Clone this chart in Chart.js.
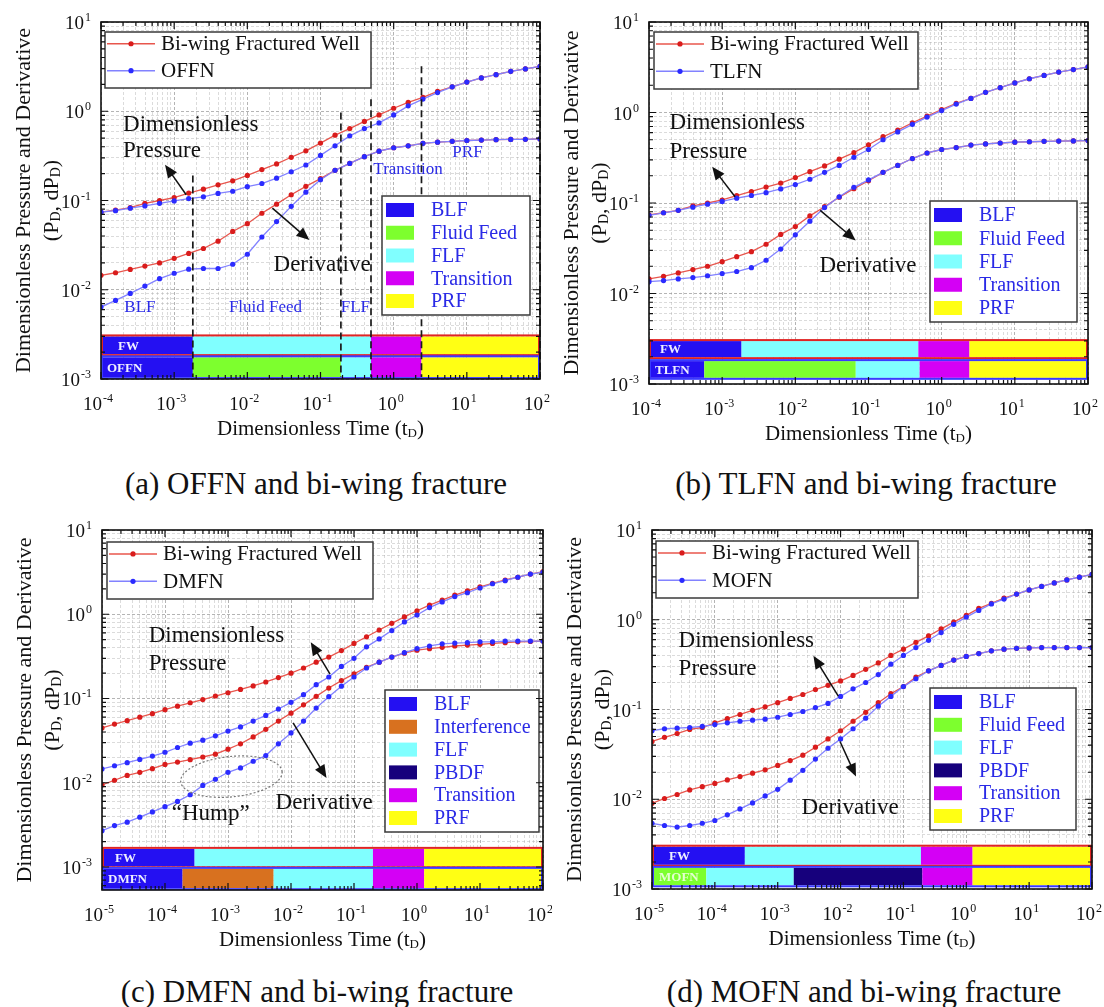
<!DOCTYPE html>
<html><head><meta charset="utf-8">
<script src="https://cdn.jsdelivr.net/npm/chart.js@4.4.0/dist/chart.umd.min.js"></script>
<style>
html,body{margin:0;padding:0;background:#fff;}
body{width:1104px;height:1007px;position:relative;overflow:hidden;}
canvas{position:absolute;}
.cap{position:absolute;font-family:"Liberation Serif","Times New Roman",serif;font-size:31px;line-height:1;text-align:center;width:500px;color:#111;white-space:nowrap;}
</style></head><body>
<canvas id="ca" width="552" height="460" style="left:0;top:0"></canvas>
<canvas id="cb" width="552" height="460" style="left:552px;top:0"></canvas>
<canvas id="cc" width="552" height="460" style="left:0;top:505px"></canvas>
<canvas id="cd" width="552" height="460" style="left:552px;top:505px"></canvas>
<div class="cap" style="left:66px;top:468px">(a) OFFN and bi-wing fracture</div>
<div class="cap" style="left:616px;top:468px">(b) TLFN and bi-wing fracture</div>
<div class="cap" style="left:67px;top:976px">(c) DMFN and bi-wing fracture</div>
<div class="cap" style="left:614px;top:976px">(d) MOFN and bi-wing fracture</div>
<script>
// ---------- DATA ----------
const tA = [1e-4,1.58e-4,2.51e-4,3.98e-4,6.31e-4,1e-3,1.58e-3,2.51e-3,3.98e-3,6.31e-3,1e-2,1.58e-2,2.51e-2,3.98e-2,6.31e-2,0.1,0.158,0.251,0.398,0.631,1,1.58,2.51,3.98,6.31,10,15.8,25.1,39.8,63.1,100];
const tC = [1e-5,1.58e-5,2.51e-5,3.98e-5,6.31e-5,1e-4,1.58e-4,2.51e-4,3.98e-4,6.31e-4,1e-3,1.58e-3,2.51e-3,3.98e-3,6.31e-3,1e-2,1.58e-2,2.51e-2,3.98e-2,6.31e-2,0.1,0.158,0.251,0.398,0.631,1,1.58,2.51,3.98,6.31,10,15.8,25.1,39.8,63.1,100];

// (a) and (b): bi-wing fractured well
const fwPressAB = [0.074,0.078,0.083,0.093,0.100,0.108,0.121,0.134,0.150,0.166,0.191,0.222,0.257,0.305,0.36,0.44,0.54,0.64,0.77,0.91,1.08,1.26,1.43,1.67,1.88,2.12,2.36,2.57,2.80,2.98,3.19];
const fwDerivAB = [0.0145,0.0155,0.0169,0.0184,0.020,0.0225,0.0255,0.029,0.035,0.045,0.055,0.072,0.091,0.116,0.144,0.176,0.218,0.26,0.31,0.357,0.39,0.41,0.437,0.45,0.46,0.47,0.475,0.48,0.483,0.485,0.49];
// (a) OFFN
const offnPress = [0.074,0.077,0.082,0.087,0.093,0.099,0.105,0.11,0.12,0.127,0.143,0.155,0.178,0.21,0.25,0.32,0.41,0.53,0.64,0.74,0.91,1.15,1.37,1.62,1.88,2.12,2.36,2.57,2.80,2.98,3.19];
const offnDeriv = [0.0064,0.0076,0.0091,0.011,0.0133,0.0153,0.017,0.0173,0.0173,0.0193,0.025,0.039,0.058,0.086,0.124,0.171,0.218,0.26,0.31,0.357,0.39,0.41,0.437,0.45,0.46,0.47,0.475,0.48,0.483,0.485,0.49];
// (b) TLFN
const tlfnPress = [0.073,0.078,0.083,0.090,0.097,0.104,0.113,0.121,0.130,0.143,0.160,0.183,0.218,0.26,0.32,0.39,0.50,0.61,0.74,0.89,1.05,1.24,1.43,1.67,1.88,2.12,2.36,2.57,2.80,2.98,3.19];
const tlfnDeriv = [0.0135,0.0139,0.0145,0.0150,0.0157,0.0166,0.0175,0.0193,0.0233,0.031,0.0445,0.063,0.089,0.117,0.149,0.18,0.218,0.26,0.31,0.357,0.39,0.41,0.437,0.45,0.46,0.47,0.475,0.48,0.483,0.485,0.49];
// (c) bi-wing and DMFN
const fwPressC = [0.0447,0.0497,0.0545,0.060,0.066,0.0737,0.081,0.089,0.097,0.107,0.117,0.128,0.141,0.157,0.177,0.20,0.23,0.27,0.31,0.37,0.45,0.54,0.65,0.78,0.93,1.1,1.28,1.47,1.69,1.9,2.12,2.33,2.55,2.75,3.0,3.2];
const fwDerivC = [0.0094,0.0107,0.0122,0.0133,0.0147,0.0165,0.0176,0.0188,0.0202,0.0218,0.025,0.029,0.035,0.043,0.054,0.067,0.084,0.106,0.133,0.163,0.196,0.235,0.27,0.31,0.345,0.375,0.39,0.405,0.42,0.43,0.44,0.45,0.46,0.47,0.475,0.48];
const dmfnPress = [0.0146,0.0159,0.0173,0.0189,0.0207,0.023,0.0262,0.0295,0.032,0.036,0.041,0.046,0.054,0.063,0.075,0.09,0.111,0.146,0.18,0.24,0.30,0.41,0.51,0.64,0.81,0.98,1.2,1.40,1.62,1.8,2.05,2.3,2.5,2.75,3.0,3.15];
const dmfnDeriv = [0.0027,0.0031,0.0034,0.0039,0.0045,0.0052,0.006,0.0072,0.0093,0.011,0.0133,0.015,0.018,0.021,0.029,0.039,0.054,0.077,0.105,0.14,0.18,0.23,0.27,0.31,0.35,0.39,0.42,0.445,0.455,0.46,0.47,0.47,0.48,0.48,0.48,0.48];
// (d) bi-wing and MOFN
const fwPressD = [0.044,0.049,0.054,0.060,0.063,0.071,0.079,0.088,0.098,0.107,0.119,0.133,0.147,0.167,0.186,0.208,0.24,0.28,0.33,0.40,0.47,0.56,0.66,0.79,0.94,1.12,1.34,1.52,1.74,1.93,2.15,2.35,2.57,2.78,2.98,3.2];
const fwDerivD = [0.009,0.0102,0.0113,0.0127,0.0138,0.015,0.0164,0.0179,0.0195,0.0213,0.0238,0.027,0.031,0.038,0.047,0.058,0.074,0.093,0.119,0.15,0.18,0.23,0.27,0.31,0.355,0.39,0.42,0.45,0.47,0.48,0.485,0.49,0.49,0.49,0.49,0.49];
const mofnPress = [0.058,0.061,0.062,0.063,0.065,0.068,0.071,0.074,0.076,0.078,0.082,0.088,0.095,0.105,0.117,0.14,0.17,0.20,0.245,0.32,0.40,0.49,0.59,0.72,0.89,1.07,1.27,1.5,1.7,1.93,2.15,2.35,2.57,2.78,2.98,3.2];
const mofnDeriv = [0.0054,0.0051,0.0049,0.0051,0.0054,0.0058,0.0067,0.0078,0.0091,0.0109,0.0129,0.0163,0.021,0.028,0.037,0.047,0.061,0.08,0.109,0.14,0.18,0.22,0.27,0.31,0.355,0.39,0.42,0.45,0.47,0.48,0.485,0.49,0.49,0.49,0.49,0.49];

// flow regime bars (edges in dimensionless time)
const fwEdgesA = [1e-4,1.8e-3,0.49,2.4,100];
const fwRegsA  = ['BLF','FLF','Transition','PRF'];
const offnEdges = [1e-4,1.8e-3,0.19,0.49,2.4,100];
const offnRegs  = ['BLF','Fluid Feed','FLF','Transition','PRF'];
const fwEdgesB = [1e-4,1.84e-3,0.48,2.4,100];
const fwRegsB  = ['BLF','FLF','Transition','PRF'];
const tlfnEdges = [1e-4,5.7e-4,0.067,0.5,2.4,100];
const tlfnRegs  = ['BLF','Fluid Feed','FLF','Transition','PRF'];
const fwEdgesC = [1e-5,2.95e-4,0.2,1.3,100];
const fwRegsC  = ['BLF','FLF','Transition','PRF'];
const dmfnEdges = [1e-5,1.9e-4,5.3e-3,0.2,1.3,100];
const dmfnRegs  = ['BLF','Interference','FLF','Transition','PRF'];
const fwEdgesD = [1e-5,3e-4,0.19,1.26,100];
const fwRegsD  = ['BLF','FLF','Transition','PRF'];
const mofnEdges = [1e-5,7.3e-5,1.8e-3,0.2,1.26,100];
const mofnRegs  = ['Fluid Feed','FLF','PBDF','Transition','PRF'];

// dashed regime boundaries in (a)
const dashTimesA = [1.8e-3,0.19,0.49,2.4,100];
const dashTopsA  = [0.19,0.97,1.36,3.2,10];

// legends and tick labels
const regLegendAB = ['BLF','Fluid Feed','FLF','Transition','PRF'];
const regLegendC  = ['BLF','Interference','FLF','PBDF','Transition','PRF'];
const regLegendD  = ['BLF','Fluid Feed','FLF','PBDF','Transition','PRF'];
const xTickExpAB = ['-4','-3','-2','-1','0','1','2'];
const xTickExpCD = ['-5','-4','-3','-2','-1','0','1','2'];
const yTickExp   = ['-3','-2','-1','0','1'];

// ---------- STYLE ----------
const SERIF='"Liberation Serif","Times New Roman",Times,serif';
const REG_COLORS={'BLF':'#2410f2','Fluid Feed':'#7dff2e','FLF':'#80ffff','Transition':'#d400f5','PRF':'#ffff14','Interference':'#d8711f','PBDF':'#16007c'};
const RED_LINE='#e8564d', RED_PT='#d91c1c', BLUE_LINE='#8282ff', BLUE_PT='#2b2bff', BLUE_TXT='#2a2ae6';

function pts(t,v){return v.map((y,i)=>({x:t[i],y:y}));}
function curve(label,t,v,blue){
  const pc=blue?BLUE_PT:RED_PT;
  return {label:label,data:pts(t,v),order:blue?1:2,borderColor:blue?BLUE_LINE:RED_LINE,backgroundColor:pc,
    pointBackgroundColor:pc,pointBorderColor:pc,pointRadius:2.6,pointBorderWidth:0,borderWidth:1.3,tension:0,fill:false};
}
function dashSet(times,tops,bottom){
  return times.map((x,i)=>({label:'dash',order:0,data:[{x:x,y:tops[i]},{x:x,y:bottom}],borderColor:'#1a1a1a',borderWidth:1.7,
    borderDash:[7,4],pointRadius:0,fill:false,clip:false}));
}
function logTicks(min,max){
  const out=[];
  for(let e=Math.floor(Math.log10(min));e<=Math.ceil(Math.log10(max));e++){
    for(let m=1;m<=9;m++){const v=m*Math.pow(10,e); if(v>=min*0.9999&&v<=max*1.0001) out.push({value:v,major:m===1});}
  }
  return out;
}
function axis(min,max){
  return {type:'logarithmic',min:min,max:max,ticks:{display:false},
    grid:{drawTicks:false,lineWidth:1,color:c=>(c.tick&&c.tick.major)?'rgba(130,130,130,0.6)':'rgba(160,160,160,0.38)'},
    border:{display:false,dash:[3,2]},
    afterBuildTicks:s=>{s.ticks=logTicks(min,max);}};
}

// ---------- DRAW HELPERS ----------
function subW(ctx,parts,size){let w=0;parts.forEach(p=>{ctx.font=(p[1]?Math.round(size*0.62):size)+'px '+SERIF;w+=ctx.measureText(p[0]).width;});return w;}
function drawRich(ctx,parts,x,y,size,align){
  const W=subW(ctx,parts,size);let cx=align==='center'?x-W/2:x;
  ctx.textAlign='left';ctx.textBaseline='alphabetic';
  parts.forEach(p=>{const s=p[1]?Math.round(size*0.62):size;ctx.font=s+'px '+SERIF;ctx.fillText(p[0],cx,y+(p[1]?size*0.1:0));cx+=ctx.measureText(p[0]).width;});
}
function drawPow(ctx,x,base,exp,align){
  ctx.font='19px '+SERIF;const w1=ctx.measureText('10').width;
  ctx.font='12px '+SERIF;const w2=ctx.measureText(exp).width;
  const W=w1+1+w2;const x0=align==='center'?x-W/2:x-W;
  ctx.textAlign='left';ctx.textBaseline='alphabetic';
  ctx.font='19px '+SERIF;ctx.fillText('10',x0,base);
  ctx.font='12px '+SERIF;ctx.fillText(exp,x0+w1+1,base-8);
}
function arrow(ctx,x1,y1,x2,y2){
  const ang=Math.atan2(y2-y1,x2-x1),L=13,H=5.5;
  ctx.strokeStyle='#111';ctx.fillStyle='#111';ctx.lineWidth=1.5;
  ctx.beginPath();ctx.moveTo(x1,y1);ctx.lineTo(x2-Math.cos(ang)*L*0.8,y2-Math.sin(ang)*L*0.8);ctx.stroke();
  ctx.beginPath();ctx.moveTo(x2,y2);
  ctx.lineTo(x2-L*Math.cos(ang)+H*Math.sin(ang),y2-L*Math.sin(ang)-H*Math.cos(ang));
  ctx.lineTo(x2-L*Math.cos(ang)-H*Math.sin(ang),y2-L*Math.sin(ang)+H*Math.cos(ang));
  ctx.closePath();ctx.fill();
}

const PANELS={};
const deco={id:'deco',
  beforeDatasetsDraw(chart){
    const P=PANELS[chart.canvas.id],ctx=chart.ctx,a=chart.chartArea,xs=chart.scales.x,ys=chart.scales.y;
    ctx.save();
    P.bars.forEach(b=>{
      const y1=ys.getPixelForValue(b.hi),y2=ys.getPixelForValue(b.lo);
      for(let i=0;i<b.regs.length;i++){
        const x1=xs.getPixelForValue(b.edges[i]),x2=xs.getPixelForValue(b.edges[i+1]);
        ctx.fillStyle=REG_COLORS[b.regs[i]];ctx.fillRect(x1,y1,x2-x1,y2-y1);
      }
      ctx.strokeStyle=b.outline;ctx.lineWidth=2;ctx.strokeRect(a.left+1,y1-1,a.right-a.left-2,y2-y1+2);
      ctx.fillStyle=b.labelColor;ctx.font='bold 13px '+SERIF;ctx.textAlign='left';ctx.textBaseline='middle';
      ctx.fillText(b.name,a.left+b.dx,(y1+y2)/2+1);
    });
    ctx.restore();
  },
  afterDatasetsDraw(chart){
    const P=PANELS[chart.canvas.id],ctx=chart.ctx,a=chart.chartArea,xs=chart.scales.x,ys=chart.scales.y;
    const X=v=>xs.getPixelForValue(v),Y=v=>ys.getPixelForValue(v);
    ctx.save();
    if(P.ellipse){const e=P.ellipse;const x1=X(e.x0),x2=X(e.x1),y1=Y(e.y1),y2=Y(e.y0);
      ctx.strokeStyle='#777';ctx.lineWidth=1.2;ctx.setLineDash([2,2]);ctx.beginPath();
      ctx.ellipse((x1+x2)/2,(y1+y2)/2,(x2-x1)/2,(y2-y1)/2,e.rot,0,Math.PI*2);ctx.stroke();ctx.setLineDash([]);}
    P.arrows.forEach(r=>arrow(ctx,X(r[0]),Y(r[1]),X(r[2]),Y(r[3])));
    P.notes.forEach(n=>{ctx.fillStyle=n.c||'#111';ctx.font=(n.s||23)+'px '+SERIF;ctx.textAlign=n.al||'left';ctx.textBaseline='middle';ctx.fillText(n.t,X(n.x),Y(n.y));});
    const L=P.legend;const lx=a.left+L.dx,ly=a.top+L.dy;
    ctx.fillStyle='#fff';ctx.fillRect(lx,ly,L.w,L.h);ctx.strokeStyle='#3a3a3a';ctx.lineWidth=1.5;ctx.strokeRect(lx,ly,L.w,L.h);
    [[P.names[0],RED_LINE,RED_PT,0.21],[P.names[1],BLUE_LINE,BLUE_PT,0.69]].forEach(r=>{
      const yy=ly+L.h*r[3];ctx.strokeStyle=r[1];ctx.lineWidth=1.5;ctx.beginPath();ctx.moveTo(lx+2,yy);ctx.lineTo(lx+50,yy);ctx.stroke();
      ctx.fillStyle=r[2];ctx.beginPath();ctx.arc(lx+26,yy,2.6,0,Math.PI*2);ctx.fill();
      ctx.fillStyle='#111';ctx.font='21px '+SERIF;ctx.textAlign='left';ctx.textBaseline='middle';ctx.fillText(r[0],lx+56,yy+1);
    });
    const R=P.reg;const rx=a.right-R.dr-R.w,ry=a.top+R.dt;
    ctx.fillStyle='#fff';ctx.fillRect(rx,ry,R.w,R.h);ctx.strokeStyle='#3a3a3a';ctx.lineWidth=1.5;ctx.strokeRect(rx,ry,R.w,R.h);
    const n=R.items.length,sp=(R.h-28)/(n-1);
    R.items.forEach((it,i)=>{const yy=ry+14+i*sp;
      ctx.fillStyle=REG_COLORS[it];ctx.fillRect(rx+4,yy-7,28,14);
      ctx.fillStyle=BLUE_TXT;ctx.font='20px '+SERIF;ctx.textAlign='left';ctx.textBaseline='middle';ctx.fillText(it,rx+49,yy+1);});
    ctx.restore();
  },
  afterDraw(chart){
    const P=PANELS[chart.canvas.id],ctx=chart.ctx,a=chart.chartArea,xs=chart.scales.x,ys=chart.scales.y;
    ctx.save();
    ctx.strokeStyle='#111';ctx.lineWidth=1.6;ctx.strokeRect(a.left,a.top,a.right-a.left,a.bottom-a.top);
    ctx.lineWidth=1.2;ctx.beginPath();
    xs.ticks.forEach(t=>{const x=xs.getPixelForValue(t.value),L=t.major?7:4;ctx.moveTo(x,a.bottom);ctx.lineTo(x,a.bottom-L);ctx.moveTo(x,a.top);ctx.lineTo(x,a.top+L);});
    ys.ticks.forEach(t=>{const y=ys.getPixelForValue(t.value),L=t.major?7:4;ctx.moveTo(a.left,y);ctx.lineTo(a.left+L,y);ctx.moveTo(a.right,y);ctx.lineTo(a.right-L,y);});
    ctx.stroke();
    ctx.fillStyle='#111';
    P.xExp.forEach(e=>drawPow(ctx,xs.getPixelForValue(Math.pow(10,Number(e)))-3,a.bottom+31,e,'center'));
    yTickExp.forEach(e=>drawPow(ctx,a.left-10,ys.getPixelForValue(Math.pow(10,Number(e)))+7,e,'right'));
    drawRich(ctx,[['Dimensionless Time (t',0],['D',1],[')',0]],(a.left+a.right)/2,a.bottom+56,21,'center');
    const cy=(a.top+a.bottom)/2;
    ctx.save();ctx.translate(a.left-78,cy);ctx.rotate(-Math.PI/2);
    drawRich(ctx,[['Dimensionless Pressure and Derivative',0]],0,7,22,'center');ctx.restore();
    ctx.save();ctx.translate(a.left-50,cy);ctx.rotate(-Math.PI/2);
    drawRich(ctx,[['(P',0],['D',1],[', dP',0],['D',1],[')',0]],0,7,22,'center');ctx.restore();
    ctx.restore();
  }
};

function makeChart(id,P,datasets,xmin,ymin,pad){
  PANELS[id]=P;
  return new Chart(document.getElementById(id),{
    type:'line',
    data:{datasets:datasets},
    options:{responsive:false,animation:false,events:[],
      layout:{padding:pad},
      plugins:{legend:{display:false},tooltip:{enabled:false}},
      scales:{x:axis(xmin,100),y:axis(ymin,10)}},
    plugins:[deco]});
}

// (a)
makeChart('ca',{
  names:['Bi-wing Fractured Well','OFFN'],xExp:xTickExpAB,
  bars:[{edges:fwEdgesA,regs:fwRegsA,hi:3.0e-3,lo:1.9e-3,outline:'#e02424',name:'FW',labelColor:'#eeeeff',dx:17},
        {edges:offnEdges,regs:offnRegs,hi:1.75e-3,lo:1.05e-3,outline:'#3a3aff',name:'OFFN',labelColor:'#eeeeff',dx:6}],
  legend:{dx:4,dy:10,w:266,h:56},
  reg:{dr:10,dt:174,w:148,h:119,items:regLegendAB},
  notes:[{t:'Dimensionless',x:2.0e-4,y:0.71},{t:'Pressure',x:2.0e-4,y:0.357},{t:'Derivative',x:0.0228,y:0.0188},
    {t:'BLF',x:3.4e-4,y:0.0064,al:'center',s:17,c:BLUE_TXT},{t:'Fluid Feed',x:0.0177,y:0.0064,al:'center',s:17,c:BLUE_TXT},
    {t:'FLF',x:0.3,y:0.0064,al:'center',s:17,c:BLUE_TXT},{t:'Transition',x:1.57,y:0.222,al:'center',s:17,c:BLUE_TXT},
    {t:'PRF',x:10.2,y:0.342,al:'center',s:17,c:BLUE_TXT}],
  arrows:[[1.46e-3,0.116,7.5e-4,0.252],[0.022,0.082,0.0705,0.036]]
},[curve('FW pressure',tA,fwPressAB,false),curve('FW derivative',tA,fwDerivAB,false),
   curve('OFFN pressure',tA,offnPress,true),curve('OFFN derivative',tA,offnDeriv,true)].concat(dashSet(dashTimesA,dashTopsA,1.05e-3)),
 1e-4,1e-3,{left:101,top:22,right:12,bottom:81});

// (b)
makeChart('cb',{
  names:['Bi-wing Fractured Well','TLFN'],xExp:xTickExpAB,
  bars:[{edges:fwEdgesB,regs:fwRegsB,hi:2.98e-3,lo:1.98e-3,outline:'#e02424',name:'FW',labelColor:'#eeeeff',dx:11},
        {edges:tlfnEdges,regs:tlfnRegs,hi:1.79e-3,lo:1.17e-3,outline:'#3a3aff',name:'TLFN',labelColor:'#eeeeff',dx:6}],
  legend:{dx:5,dy:10,w:264,h:57},
  reg:{dr:11,dt:179,w:147,h:121,items:regLegendAB},
  notes:[{t:'Dimensionless',x:1.9e-4,y:0.76},{t:'Pressure',x:1.9e-4,y:0.369},{t:'Derivative',x:0.0214,y:0.0203}],
  arrows:[[1.5e-3,0.117,7.3e-4,0.251],[0.0219,0.083,0.0668,0.0385]]
},[curve('FW pressure',tA,fwPressAB,false),curve('FW derivative',tA,fwDerivAB,false),
   curve('TLFN pressure',tA,tlfnPress,true),curve('TLFN derivative',tA,tlfnDeriv,true)],
 1e-4,1e-3,{left:97,top:22,right:16,bottom:76});

// (c)
makeChart('cc',{
  names:['Bi-wing Fractured Well','DMFN'],xExp:xTickExpCD,
  bars:[{edges:fwEdgesC,regs:fwRegsC,hi:1.64e-3,lo:1.02e-3,outline:'#e02424',name:'FW',labelColor:'#eeeeff',dx:13},
        {edges:dmfnEdges,regs:dmfnRegs,hi:9.5e-4,lo:5.6e-4,outline:'#3a3aff',name:'DMFN',labelColor:'#eeeeff',dx:6}],
  legend:{dx:5,dy:12,w:266,h:57},
  reg:{dr:4,dt:160,w:154,h:142,items:regLegendC},
  notes:[{t:'Dimensionless',x:5.5e-5,y:0.557},{t:'Pressure',x:5.5e-5,y:0.256},{t:'Derivative',x:5.7e-3,y:0.0057},
    {t:'\u201cHump\u201d',x:5.3e-4,y:0.0043,al:'center'}],
  arrows:[[0.0417,0.195,0.0206,0.465],[0.0108,0.0514,0.0366,0.0114]],
  ellipse:{x0:1.76e-4,x1:7.3e-3,y0:0.0068,y1:0.0205,rot:-0.1}
},[curve('FW pressure',tC,fwPressC,false),curve('FW derivative',tC,fwDerivC,false),
   curve('DMFN pressure',tC,dmfnPress,true),curve('DMFN derivative',tC,dmfnDeriv,true)],
 1e-5,5.33e-4,{left:102,top:25,right:9,bottom:75});

// (d)
makeChart('cd',{
  names:['Bi-wing Fractured Well','MOFN'],xExp:xTickExpCD,
  bars:[{edges:fwEdgesD,regs:fwRegsD,hi:2.96e-3,lo:1.86e-3,outline:'#e02424',name:'FW',labelColor:'#eeeeff',dx:17},
        {edges:mofnEdges,regs:mofnRegs,hi:1.72e-3,lo:1.1e-3,outline:'#3a3aff',name:'MOFN',labelColor:'#e4ffd0',dx:7}],
  legend:{dx:4,dy:11,w:262,h:57},
  reg:{dr:16,dt:158,w:146,h:142,items:regLegendD},
  notes:[{t:'Dimensionless',x:2.65e-5,y:0.583},{t:'Pressure',x:2.65e-5,y:0.281},{t:'Derivative',x:2.4e-3,y:7.9e-3}],
  arrows:[[9.2e-3,0.141,3.7e-3,0.396],[9.8e-3,0.044,0.0176,0.0179]]
},[curve('FW pressure',tC,fwPressD,false),curve('FW derivative',tC,fwDerivD,false),
   curve('MOFN pressure',tC,mofnPress,true),curve('MOFN derivative',tC,mofnDeriv,true)],
 1e-5,1e-3,{left:100,top:25,right:12,bottom:76});
</script>
</body></html>
